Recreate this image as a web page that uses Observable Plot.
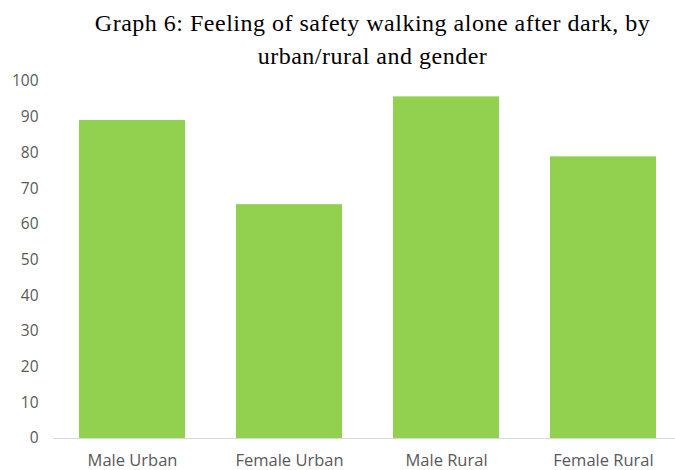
<!DOCTYPE html>
<html>
<head>
<meta charset="utf-8">
<script src="https://cdn.jsdelivr.net/npm/d3@7"></script>
<script src="https://cdn.jsdelivr.net/npm/@observablehq/plot@0.6"></script>
<style>
  html, body { margin: 0; padding: 0; background: #fff; }
  #wrap { width: 675px; height: 470px; position: relative; overflow: hidden; }
  #title { position: absolute; left: 70px; width: 605px; top: 7px; text-align: center;
    font-family: "Liberation Serif", "DejaVu Serif", serif; font-size: 24px; letter-spacing: 0.5px; line-height: 33px; color: #000; }
  #chart { position: absolute; left: 0; top: 70px; }
</style>
</head>
<body>
<div id="wrap">
  <div id="title">Graph 6: Feeling of safety walking alone after dark, by<br>urban/rural and gender</div>
  <div id="chart"></div>
</div>
<script>
const categories = ["Male Urban", "Female Urban", "Male Rural", "Female Rural"];
const values = [89.1, 65.5, 95.7, 78.9];
const yTicks = [0, 10, 20, 30, 40, 50, 60, 70, 80, 90, 100];

const data = categories.map((c, i) => ({category: c, value: values[i]}));

const chart = Plot.plot({
  width: 675,
  height: 400,
  marginLeft: 53,
  marginRight: -7,
  marginTop: 11,
  marginBottom: 32,
  style: {fontFamily: "'Open Sans', 'Liberation Sans', sans-serif", fontSize: "15px", color: "#595959", background: "#fff", overflow: "visible"},
  x: {domain: categories, paddingInner: 0.325, paddingOuter: 0.1656, label: null},
  y: {domain: [0, 100], ticks: yTicks, label: null},
  marks: [
    Plot.barY(data, {x: "category", y: "value", fill: "#92D050"}),
    Plot.ruleY([0], {stroke: "#d9d9d9", strokeWidth: 1}),
    Plot.axisY({ticks: yTicks, tickSize: 0, tickPadding: 15, label: null, fontSize: 15.5, fill: "#595959"}),
    Plot.axisX({tickSize: 0, tickPadding: 16, label: null, fontSize: 16.5, fill: "#595959"})
  ]
});
document.getElementById("chart").appendChild(chart);
</script>
</body>
</html>
